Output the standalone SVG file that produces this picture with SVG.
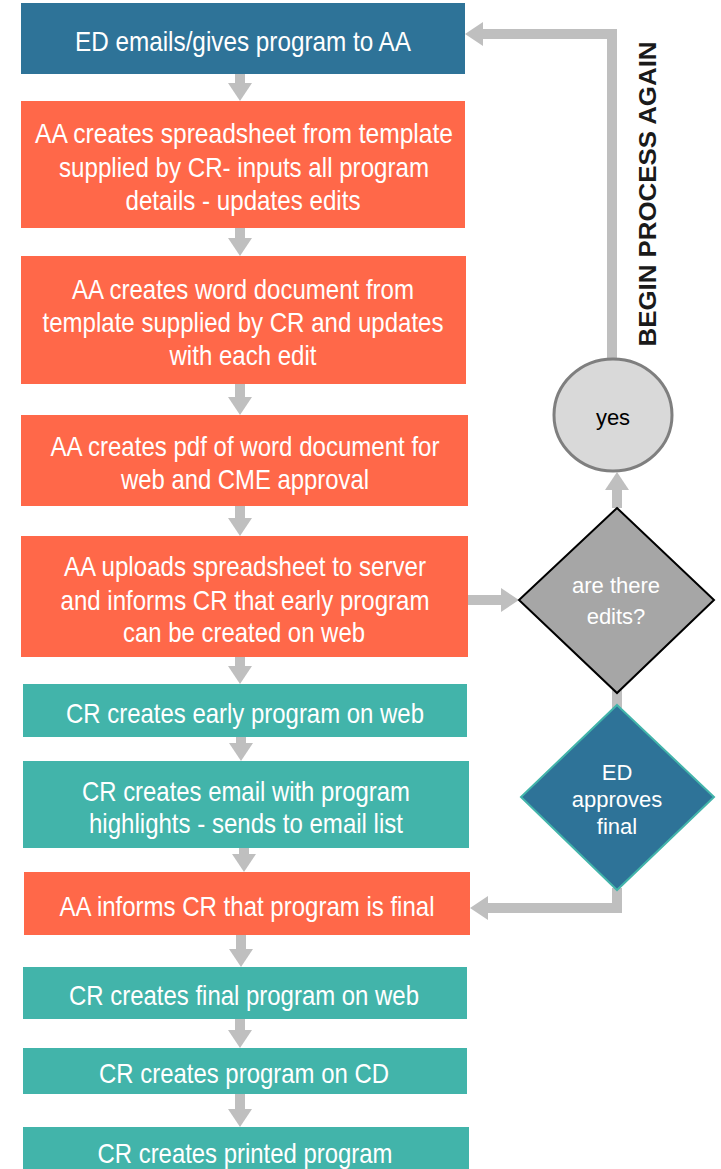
<svg xmlns="http://www.w3.org/2000/svg" width="721" height="1169" viewBox="0 0 721 1169">
<style>
.blue{fill:#2E7398}
.org{fill:#FF6849}
.teal{fill:#42B4AA}
.t{font-family:"Liberation Sans Narrow","Liberation Sans",Arial,sans-serif;font-size:28px;fill:#FFFFFF;text-anchor:middle;dominant-baseline:central}
.d{font-family:"Liberation Sans",Arial,sans-serif;font-size:22px;fill:#FFFFFF;text-anchor:middle;dominant-baseline:central}
.c{fill:none;stroke:#BFBFBF;stroke-width:10;stroke-linejoin:miter}
</style>
<defs>
<marker id="ah" markerUnits="userSpaceOnUse" markerWidth="18" markerHeight="24" viewBox="0 0 18 24" refX="0" refY="12" orient="auto">
<path d="M0,0 L18,12 L0,24 z" fill="#BFBFBF"/>
</marker>
</defs>
<g id="connectors">
<line class="c" x1="240" y1="74" x2="240" y2="83" marker-end="url(#ah)"/>
<line class="c" x1="240" y1="228" x2="240" y2="238" marker-end="url(#ah)"/>
<line class="c" x1="240" y1="384" x2="240" y2="397" marker-end="url(#ah)"/>
<line class="c" x1="240" y1="506" x2="240" y2="518" marker-end="url(#ah)"/>
<line class="c" x1="240" y1="657" x2="240" y2="666" marker-end="url(#ah)"/>
<line class="c" x1="241" y1="737" x2="241" y2="743" marker-end="url(#ah)"/>
<line class="c" x1="244" y1="848" x2="244" y2="854" marker-end="url(#ah)"/>
<line class="c" x1="241" y1="935" x2="241" y2="949" marker-end="url(#ah)"/>
<line class="c" x1="240" y1="1019" x2="240" y2="1030" marker-end="url(#ah)"/>
<line class="c" x1="240" y1="1094" x2="240" y2="1109" marker-end="url(#ah)"/>
<line class="c" x1="468" y1="600" x2="501" y2="600" marker-end="url(#ah)"/>
<line class="c" x1="617" y1="508" x2="617" y2="490" marker-end="url(#ah)"/>
<line class="c" x1="617" y1="690" x2="617" y2="708"/>
<path class="c" d="M612,358 L612,34 L483,34" marker-end="url(#ah)"/>
<path class="c" d="M617,888 L617,908 L488,908" marker-end="url(#ah)"/>
</g>
<g id="n1"><rect class="blue" x="21" y="3" width="444" height="71"/><text class="t" x="243" y="41" textLength="336" lengthAdjust="spacingAndGlyphs">ED emails/gives program to AA</text></g>
<g id="n2"><rect class="org" x="21" y="101" width="444" height="127"/>
<text class="t" x="244" y="133" textLength="418" lengthAdjust="spacingAndGlyphs">AA creates spreadsheet  from template</text>
<text class="t" x="244" y="167" textLength="370" lengthAdjust="spacingAndGlyphs">supplied by CR- inputs all program</text>
<text class="t" x="243" y="200" textLength="235" lengthAdjust="spacingAndGlyphs">details - updates edits</text></g>
<g id="n3"><rect class="org" x="21" y="256" width="445" height="128"/>
<text class="t" x="243" y="289" textLength="342" lengthAdjust="spacingAndGlyphs">AA creates word document from</text>
<text class="t" x="243" y="322" textLength="401" lengthAdjust="spacingAndGlyphs">template supplied by CR and updates</text>
<text class="t" x="243" y="355" textLength="147" lengthAdjust="spacingAndGlyphs">with each edit</text></g>
<g id="n4"><rect class="org" x="21" y="415" width="447" height="91"/>
<text class="t" x="245" y="446" textLength="389" lengthAdjust="spacingAndGlyphs">AA creates pdf of word document for</text>
<text class="t" x="245" y="479" textLength="248" lengthAdjust="spacingAndGlyphs">web and CME approval</text></g>
<g id="n5"><rect class="org" x="21" y="536" width="447" height="121"/>
<text class="t" x="245" y="566" textLength="362" lengthAdjust="spacingAndGlyphs">AA uploads spreadsheet to server</text>
<text class="t" x="245" y="600" textLength="369" lengthAdjust="spacingAndGlyphs">and informs CR that early program</text>
<text class="t" x="244" y="632" textLength="242" lengthAdjust="spacingAndGlyphs">can be created on web</text></g>
<g id="n6"><rect class="teal" x="23" y="684" width="444" height="53"/>
<text class="t" x="245" y="713" textLength="358" lengthAdjust="spacingAndGlyphs">CR creates early program on web</text></g>
<g id="n7"><rect class="teal" x="23" y="761" width="446" height="87"/>
<text class="t" x="246" y="791" textLength="328" lengthAdjust="spacingAndGlyphs">CR creates email with program</text>
<text class="t" x="246" y="823" textLength="314" lengthAdjust="spacingAndGlyphs">highlights - sends to email list</text></g>
<g id="n8"><rect class="org" x="24" y="872" width="446" height="63"/>
<text class="t" x="247" y="906" textLength="375" lengthAdjust="spacingAndGlyphs">AA informs CR that program is final</text></g>
<g id="n9"><rect class="teal" x="23" y="967" width="444" height="52"/>
<text class="t" x="244" y="995" textLength="350" lengthAdjust="spacingAndGlyphs">CR creates final program on web</text></g>
<g id="n10"><rect class="teal" x="23" y="1048" width="444" height="46"/>
<text class="t" x="244" y="1073" textLength="290" lengthAdjust="spacingAndGlyphs">CR creates program on CD</text></g>
<g id="n11"><rect class="teal" x="23" y="1127" width="446" height="45"/>
<text class="t" x="245" y="1153" textLength="295" lengthAdjust="spacingAndGlyphs">CR creates printed program</text></g>
<g id="yes"><ellipse cx="613" cy="415" rx="59" ry="56" fill="#D9D9D9" stroke="#7F7F7F" stroke-width="3"/>
<text x="613" y="417" font-family="Liberation Sans, Arial, sans-serif" font-size="22" fill="#000" text-anchor="middle" dominant-baseline="central">yes</text></g>
<g id="edits"><polygon points="617,508 714,600 617,693 519,600" fill="#A6A6A6" stroke="#000" stroke-width="2"/>
<text class="d" x="616" y="585">are there</text><text class="d" x="616" y="616">edits?</text></g>
<g id="approves"><polygon points="617,705 714,797 617,890 521,797" fill="#2E7398" stroke="#42B4AA" stroke-width="2"/>
<text class="d" x="617" y="772" font-size="20">ED</text><text class="d" x="617" y="799" font-size="20">approves</text><text class="d" x="617" y="826" font-size="20">final</text></g>
<g id="label"><text transform="translate(656,194) rotate(-90)" font-family="Liberation Sans, Arial, sans-serif" font-weight="bold" font-size="23" fill="#1a1a1a" text-anchor="middle" textLength="305" lengthAdjust="spacingAndGlyphs">BEGIN PROCESS AGAIN</text></g>
</svg>
